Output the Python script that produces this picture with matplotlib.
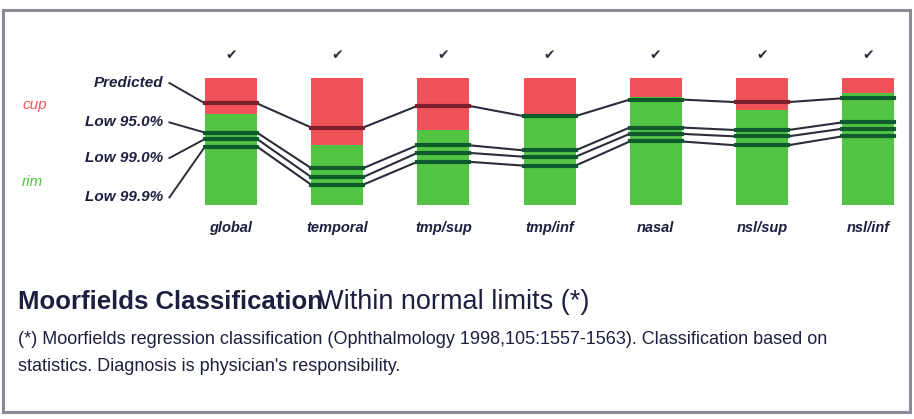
import matplotlib
matplotlib.use("Agg")
import matplotlib.pyplot as plt
from matplotlib.patches import Rectangle

plt.rcParams["font.family"] = ["Liberation Sans", "DejaVu Sans"]

# sectors and values (fraction of bar height, bottom = 0, top = 1)
SECTORS = ["global", "temporal", "tmp/sup", "tmp/inf", "nasal", "nsl/sup", "nsl/inf"]
CUP_LEVEL = [0.72, 0.47, 0.59, 0.71, 0.85, 0.75, 0.88]   # red above, green below
PREDICTED = [0.80, 0.61, 0.78, 0.70, 0.83, 0.81, 0.84]
LOW_95 = [0.57, 0.29, 0.47, 0.43, 0.61, 0.59, 0.65]
LOW_99 = [0.52, 0.22, 0.41, 0.38, 0.56, 0.54, 0.60]
LOW_999 = [0.46, 0.16, 0.34, 0.31, 0.50, 0.47, 0.54]
LINE_LABELS = ["Predicted", "Low 95.0%", "Low 99.0%", "Low 99.9%"]
LABEL_Y = [0.96, 0.65, 0.37, 0.06]

RED = "#f0525a"
GREEN = "#52c443"
INK = "#1d1f3f"
W = 0.49

fig = plt.figure(figsize=(9.14, 4.19), dpi=100)
ax = fig.add_axes([0, 0, 1, 1])
ax.set_xlim(-2.176, 6.433)
ax.set_ylim(-1.685, 1.614)
ax.axis("off")

# frame
fig.patches.append(Rectangle((3 / 914, 7 / 419), 907 / 914, 402 / 419,
                             transform=fig.transFigure, fill=False,
                             edgecolor="#8a8a99", linewidth=2.2))

x = list(range(len(SECTORS)))
ax.bar(x, CUP_LEVEL, width=W, bottom=0, color=GREEN, zorder=1)
ax.bar(x, [1 - c for c in CUP_LEVEL], width=W, bottom=CUP_LEVEL, color=RED, zorder=1)

series = [PREDICTED, LOW_95, LOW_99, LOW_999]
for vals, ly in zip(series, LABEL_Y):
    xs, ys = [], []
    for i, v in enumerate(vals):
        xs += [i - W / 2, i + W / 2]
        ys += [v, v]
    ax.plot(xs, ys, color="#2b2d3a", lw=1.5, zorder=3)
    # darker band where the line crosses a bar
    for i, v in enumerate(vals):
        c = "#7d1f2c" if v > CUP_LEVEL[i] else "#0f5a2c"
        ax.plot([i - W / 2, i + W / 2], [v, v], color=c, lw=3, zorder=4)
    # leader from label to first bar
    ax.plot([-0.58, -W / 2], [ly, vals[0]], color="#2b2d3a", lw=1.4, zorder=3)

for lab, ly in zip(LINE_LABELS, LABEL_Y):
    ax.text(-0.64, ly, lab, ha="right", va="center", fontsize=11,
            fontweight="bold", style="italic", color=INK)

for i, s in enumerate(SECTORS):
    ax.text(i, -0.18, s, ha="center", va="center", fontsize=10.5,
            fontweight="bold", style="italic", color=INK)
    ax.text(i, 1.18, "\u2714", ha="center", va="center", fontsize=10,
            color="#303040", family=["DejaVu Sans"])

ax.text(-1.846, 0.79, "cup", ha="center", va="center", fontsize=11,
        style="italic", color=RED)
ax.text(-1.87, 0.18, "rim", ha="center", va="center", fontsize=11,
        style="italic", color=GREEN)

fig.text(18 / 914, 1 - 302 / 419, "Moorfields Classification", fontsize=18.5,
         fontweight="bold", color=INK, va="center", ha="left")
fig.text(318 / 914, 1 - 302 / 419, "Within normal limits (*)", fontsize=19.5,
         color=INK, va="center", ha="left")
fig.text(18 / 914, 1 - 340 / 419,
         "(*) Moorfields regression classification (Ophthalmology 1998,105:1557-1563). "
         "Classification based on", fontsize=13, color=INK, va="center", ha="left")
fig.text(18 / 914, 1 - 366 / 419,
         "statistics. Diagnosis is physician's responsibility.", fontsize=13,
         color=INK, va="center", ha="left")

fig.savefig("out.png", dpi=100)
